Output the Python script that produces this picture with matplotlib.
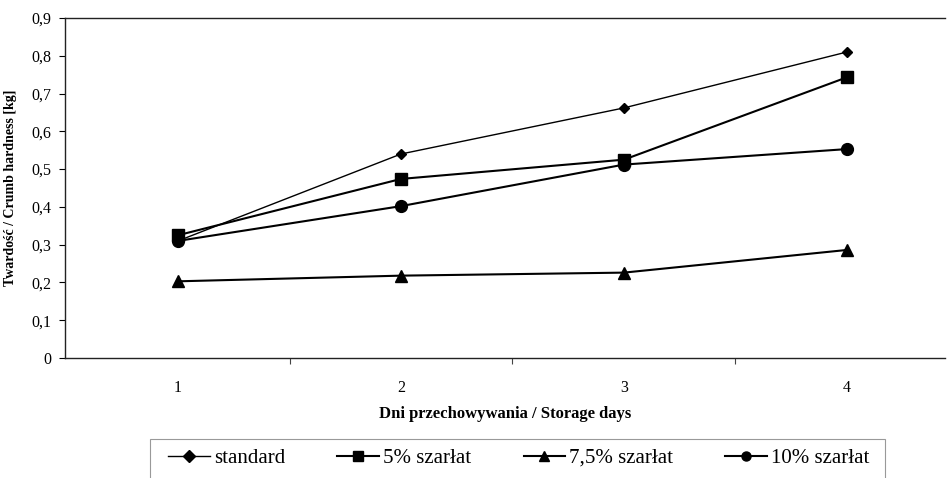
import matplotlib
matplotlib.use("Agg")
import matplotlib.pyplot as plt
from matplotlib.ticker import FixedLocator
from matplotlib.patches import Rectangle

days = [1, 2, 3, 4]
day_labels = ["1", "2", "3", "4"]
standard = [0.31, 0.54, 0.662, 0.81]
szarlat5 = [0.325, 0.474, 0.525, 0.743]
szarlat75 = [0.203, 0.218, 0.226, 0.286]
szarlat10 = [0.31, 0.402, 0.512, 0.553]
yticks = [0, 0.1, 0.2, 0.3, 0.4, 0.5, 0.6, 0.7, 0.8, 0.9]
ytick_labels = ["0", "0,1", "0,2", "0,3", "0,4", "0,5", "0,6", "0,7", "0,8", "0,9"]

plt.rcParams['font.family'] = ['Liberation Serif', 'DejaVu Serif']

W, H = 948, 478
fig = plt.figure(figsize=(W / 100, H / 100), dpi=100)
ax = fig.add_axes([65 / W, (H - 358) / H, 880 / W, 340 / H])

ax.plot(days, standard, color='black', lw=1.0, marker='D', ms=5.5, label='standard')
ax.plot(days, szarlat5, color='black', lw=1.5, marker='s', ms=8.5, label='5% szarłat')
ax.plot(days, szarlat75, color='black', lw=1.5, marker='^', ms=8.5, label='7,5% szarłat')
ax.plot(days, szarlat10, color='black', lw=1.5, marker='o', ms=8.5, label='10% szarłat')

ax.set_xlim(0.493, 4.44)
ax.set_ylim(0, 0.9)
ax.set_yticks(yticks)
ax.set_yticklabels(ytick_labels, fontsize=11.5)
ax.set_xticks(days)
ax.set_xticklabels(day_labels, fontsize=11.5)
ax.xaxis.set_minor_locator(FixedLocator([1.5, 2.5, 3.5]))
ax.tick_params(axis='x', which='major', length=0, pad=16)
ax.tick_params(axis='x', which='minor', length=4, width=0.8, direction='out', color='#444444')
ax.tick_params(axis='y', which='major', length=4, width=0.8, direction='out', pad=6)

for side in ['top', 'left', 'bottom']:
    ax.spines[side].set_color('#222222')
    ax.spines[side].set_linewidth(1.0)
ax.spines['right'].set_visible(False)

ax.set_xlabel('Dni przechowywania / Storage days', fontsize=12, fontweight='bold')
ax.xaxis.set_label_coords(0.5, -0.142)
ax.set_ylabel('Twardość / Crumb hardness [kg]', fontsize=10, fontweight='bold', labelpad=10)

leg = fig.legend(loc='center', bbox_to_anchor=(519 / W, (H - 458) / H), ncol=4,
                 fontsize=15, frameon=False, handlelength=2.0,
                 handletextpad=0.2, columnspacing=2.5, borderpad=0.2)
for h in leg.legend_handles:
    h.set_markersize(6.5)

frame = Rectangle((150 / W, -0.1), (885 - 150) / W, (H - 439) / H + 0.1,
                  transform=fig.transFigure, fill=False, edgecolor='#999999',
                  linewidth=0.8, clip_on=False)
fig.add_artist(frame)

fig.savefig('out.png', dpi=100)
